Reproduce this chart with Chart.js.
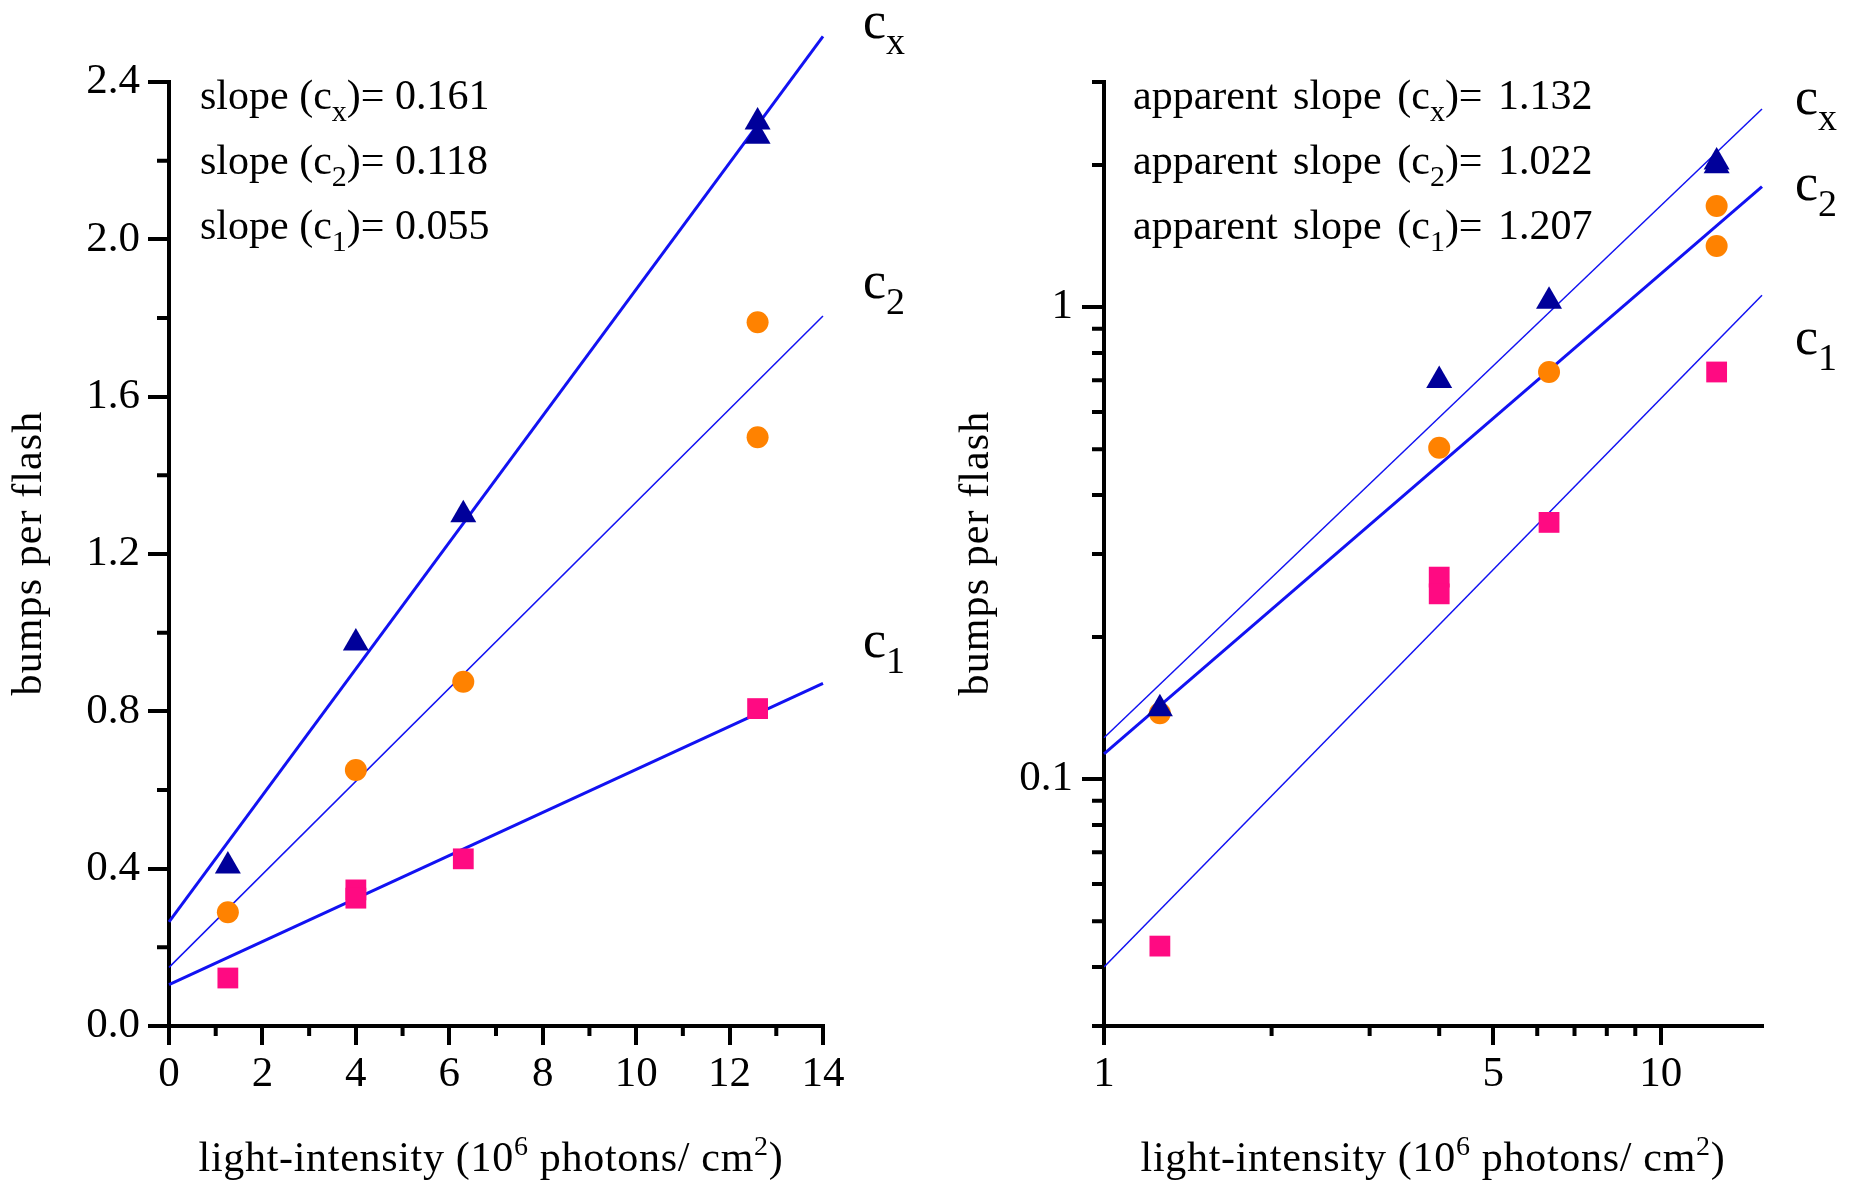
<!DOCTYPE html>
<html>
<head>
<meta charset="utf-8">
<script src="https://cdn.jsdelivr.net/npm/chart.js@4.4.1/dist/chart.umd.min.js"></script>
<style>
  body { margin: 0; background: #fff; overflow: hidden; }
  #wrap { position: relative; width: 1856px; height: 1185px; font-family: "Liberation Serif", "Times New Roman", serif; color: #000; }
  canvas { position: absolute; top: 0; }
  .txt { position: absolute; white-space: nowrap; font-size: 42px; line-height: 42px; }
  .note .sub { position: relative; top: 12px; font-size: 30px; }
  .wide { word-spacing: 5px; }
  .curve { position: absolute; white-space: nowrap; font-size: 52px; line-height: 52px; }
  .curve .sub { position: relative; top: 16px; font-size: 38px; }
  .sup { position: relative; top: -16px; font-size: 28px; }
  .xtitle { width: 800px; text-align: center; letter-spacing: 0.7px; }
  .ytitle { width: 400px; height: 42px; text-align: center; letter-spacing: 1.1px; transform: rotate(-90deg); }
</style>
</head>
<body>
<div id="wrap">
  <canvas id="left" width="928" height="1185" style="left:0"></canvas>
  <canvas id="right" width="928" height="1185" style="left:928px"></canvas>

  <div class="txt note" style="left:200px; top:74px">slope (c<span class="sub">x</span>)= 0.161</div>
  <div class="txt note" style="left:200px; top:139px">slope (c<span class="sub">2</span>)= 0.118</div>
  <div class="txt note" style="left:200px; top:204px">slope (c<span class="sub">1</span>)= 0.055</div>

  <div class="txt note wide" style="left:1133px; top:74px">apparent slope (c<span class="sub">x</span>)= 1.132</div>
  <div class="txt note wide" style="left:1133px; top:139px">apparent slope (c<span class="sub">2</span>)= 1.022</div>
  <div class="txt note wide" style="left:1133px; top:204px">apparent slope (c<span class="sub">1</span>)= 1.207</div>

  <div class="curve" style="left:863px; top:-5px">c<span class="sub">x</span></div>
  <div class="curve" style="left:863px; top:255px">c<span class="sub">2</span></div>
  <div class="curve" style="left:863px; top:614px">c<span class="sub">1</span></div>

  <div class="curve" style="left:1795px; top:71px">c<span class="sub">x</span></div>
  <div class="curve" style="left:1795px; top:157px">c<span class="sub">2</span></div>
  <div class="curve" style="left:1795px; top:311px">c<span class="sub">1</span></div>

  <div class="txt xtitle" style="left:91px; top:1136px">light-intensity (10<span class="sup">6</span> photons/ cm<span class="sup">2</span>)</div>
  <div class="txt xtitle" style="left:1033px; top:1136px">light-intensity (10<span class="sup">6</span> photons/ cm<span class="sup">2</span>)</div>

  <div class="txt ytitle" style="left:-173px; top:532px">bumps per flash</div>
  <div class="txt ytitle" style="left:774px; top:532px">bumps per flash</div>
</div>

<script>
// =========================
//  Data
// =========================

// left panel, linear axes
const linCxX = [1.26, 4.0, 6.3, 12.6, 12.6];
const linCxY = [0.407, 0.974, 1.300, 2.298, 2.262];
const linC2X = [1.26, 4.0, 6.3, 12.6, 12.6];
const linC2Y = [0.289, 0.651, 0.875, 1.497, 1.789];
const linC1X = [1.26, 4.0, 4.0, 6.3, 12.6];
const linC1Y = [0.122, 0.346, 0.325, 0.425, 0.807];

const linFitX = [0, 14];
const linFitCx = [0.265, 2.516];
const linFitC2 = [0.149, 1.805];
const linFitC1 = [0.105, 0.871];

const linXTicks = [0, 2, 4, 6, 8, 10, 12, 14];
const linXLabels = ["0", "2", "4", "6", "8", "10", "12", "14"];
const linXMinor = [1, 3, 5, 7, 9, 11, 13];
const linYTicks = [0, 0.4, 0.8, 1.2, 1.6, 2.0, 2.4];
const linYLabels = ["0.0", "0.4", "0.8", "1.2", "1.6", "2.0", "2.4"];
const linYMinor = [0.2, 0.6, 1.0, 1.4, 1.8, 2.2];

// right panel, log-log axes
const logCxX = [1.26, 4.0, 6.3, 12.6, 12.6];
const logCxY = [0.141, 0.699, 1.03, 2.03, 1.995];
const logC2X = [1.26, 4.0, 6.3, 12.6, 12.6];
const logC2Y = [0.138, 0.504, 0.729, 1.638, 1.348];
const logC1X = [1.26, 4.0, 4.0, 6.3, 12.6];
const logC1Y = [0.0443, 0.268, 0.247, 0.350, 0.729];

const logFitX = [1, 15.2];
const logFitCx = [0.1224, 2.63];
const logFitC2 = [0.1131, 1.80];
const logFitC1 = [0.0400, 1.06];

const logXTicks = [1, 5, 10];
const logXLabels = ["1", "5", "10"];
const logXMinor = [2, 3, 4, 6, 7, 8, 9];
const logYTicks = [0.1, 1];
const logYLabels = ["0.1", "1"];
const logYMinor = [0.03, 0.04, 0.05, 0.06, 0.07, 0.08, 0.09, 0.2, 0.3, 0.4, 0.5, 0.6, 0.7, 0.8, 0.9, 2, 3];


// =========================
//  Styles
// =========================

const SERIF = "'Liberation Serif', 'Times New Roman', serif";
const LINE = "#1212f2";
const TRI = "#00009a";
const CIRC = "#ff8200";
const SQ = "#ff0a82";

function toPts(xs, ys) {
  return xs.map((x, i) => ({ x: x, y: ys[i] }));
}

function markers(xs, ys, style, r, color) {
  return {
    data: toPts(xs, ys),
    pointStyle: style,
    pointRadius: r,
    pointHoverRadius: r,
    backgroundColor: color,
    borderColor: color,
    borderWidth: 0,
    showLine: false,
    clip: false,
  };
}

function fitLine(xs, ys, w) {
  return {
    data: toPts(xs, ys),
    showLine: true,
    pointRadius: 0,
    borderColor: LINE,
    borderWidth: w,
    tension: 0,
    fill: false,
    clip: false,
  };
}

function axis(type, min, max, ticks, labels, tickLen, pad, fit) {
  return {
    type: type,
    min: min,
    max: max,
    border: { display: true, color: "#000", width: 4 },
    grid: { display: true, drawOnChartArea: false, drawTicks: true, color: "#000", lineWidth: 4, tickLength: tickLen },
    ticks: {
      color: "#000",
      font: { family: SERIF, size: 43 },
      autoSkip: false,
      maxRotation: 0,
      padding: pad,
      callback: (v, i) => labels[i],
    },
    afterBuildTicks: (scale) => {
      scale.ticks = ticks.map(v => ({ value: v }));
    },
    afterFit: fit,
  };
}

// short ticks between the labelled ones
const minorTicks = {
  id: "minorTicks",
  afterDraw(chart, args, opts) {
    const ctx = chart.ctx;
    const sx = chart.scales.x, sy = chart.scales.y;
    ctx.save();
    ctx.strokeStyle = "#000";
    ctx.lineWidth = 4;
    ctx.beginPath();
    for (const v of opts.x) {
      const px = sx.getPixelForValue(v);
      ctx.moveTo(px, sx.top);
      ctx.lineTo(px, sx.top + opts.xLen);
    }
    for (const v of opts.y) {
      const py = sy.getPixelForValue(v);
      ctx.moveTo(sy.right, py);
      ctx.lineTo(sy.right - opts.yLen, py);
    }
    ctx.stroke();
    ctx.restore();
  },
};

Chart.defaults.animation = false;
Chart.defaults.plugins.legend.display = false;
Chart.defaults.plugins.tooltip.enabled = false;


// =========================
//  Left panel
// =========================

new Chart(document.getElementById("left"), {
  type: "scatter",
  data: {
    datasets: [
      markers(linCxX, linCxY, "triangle", 15, TRI),
      markers(linC2X, linC2Y, "circle", 11, CIRC),
      markers(linC1X, linC1Y, "rect", 14.7, SQ),
      fitLine(linFitX, linFitCx, 3),
      fitLine(linFitX, linFitC2, 1.5),
      fitLine(linFitX, linFitC1, 3),
    ],
  },
  options: {
    responsive: false,
    devicePixelRatio: 1,
    layout: { padding: { left: 29, right: 105, top: 82, bottom: 59 } },
    scales: {
      x: axis("linear", 0, 14, linXTicks, linXLabels, 19, 4, s => { s.height = 100; }),
      y: axis("linear", 0, 2.4, linYTicks, linYLabels, 21, 8, s => { s.width = 140; }),
    },
    plugins: {
      minorTicks: { x: linXMinor, y: linYMinor, xLen: 10, yLen: 12 },
    },
  },
  plugins: [minorTicks],
});


// =========================
//  Right panel
// =========================

new Chart(document.getElementById("right"), {
  type: "scatter",
  data: {
    datasets: [
      markers(logCxX, logCxY, "triangle", 15, TRI),
      markers(logC2X, logC2Y, "circle", 11, CIRC),
      markers(logC1X, logC1Y, "rect", 14.7, SQ),
      fitLine(logFitX, logFitCx, 1.5),
      fitLine(logFitX, logFitC2, 3),
      fitLine(logFitX, logFitC1, 1.5),
    ],
  },
  options: {
    responsive: false,
    devicePixelRatio: 1,
    layout: { padding: { left: 26, right: 94, top: 82, bottom: 59 } },
    scales: {
      x: axis("logarithmic", 1, 15.2, logXTicks, logXLabels, 19, 4, s => { s.height = 100; }),
      y: axis("logarithmic", 0.03, 3, logYTicks, logYLabels, 22, 9, s => { s.width = 150; }),
    },
    plugins: {
      minorTicks: { x: logXMinor, y: logYMinor, xLen: 10, yLen: 12 },
    },
  },
  plugins: [minorTicks],
});
</script>
</body>
</html>
